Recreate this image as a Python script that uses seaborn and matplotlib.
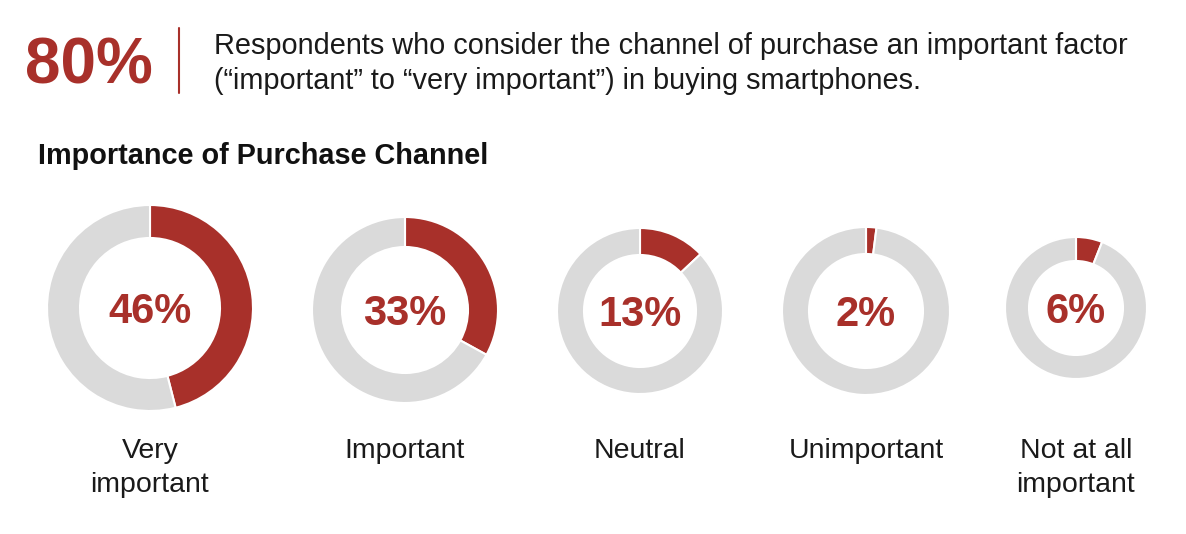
import matplotlib
matplotlib.use("Agg")
import matplotlib.pyplot as plt
import seaborn as sns

# ---- data ----
categories = ["Very\nimportant", "Important", "Neutral", "Unimportant", "Not at all\nimportant"]
shares = [46, 33, 13, 2, 6]
headline_value = "80%"
headline_text = ("Respondents who consider the channel of purchase an important factor\n"
                 "(\u201cimportant\u201d to \u201cvery important\u201d) in buying smartphones.")
chart_title = "Importance of Purchase Channel"

# ---- layout / style (pixel coordinates, y measured from top) ----
W, H = 1186, 534
centers_x = [150, 405, 640, 866, 1076]
centers_y = [308, 310, 311, 311, 308]
radii = [103, 93, 83, 84, 71]
ring_w = [33, 30, 27, 27, 24]
label_base = 458
label_step = 34
RED = "#A8302A"
GRAY = "#DADADA"
TEXT = "#1a1a1a"

sns.set_theme(style="white")
plt.rcParams["font.family"] = ["Liberation Sans", "DejaVu Sans"]

fig = plt.figure(figsize=(W / 100, H / 100), dpi=100)
ax = fig.add_axes([0, 0, 1, 1])

palette = sns.color_palette([RED, GRAY])

for i, (cat, val) in enumerate(zip(categories, shares)):
    cx, cy = centers_x[i], H - centers_y[i]
    ax.pie([val, 100 - val], colors=palette, startangle=90, counterclock=False,
           radius=radii[i], center=(cx, cy),
           wedgeprops=dict(width=ring_w[i], edgecolor="white", linewidth=1.5))
    ax.text(cx, cy - 15, f"{val}%", ha="center", va="baseline", fontsize=30,
            fontweight="bold", color=RED)
    for k, line in enumerate(cat.split("\n")):
        ax.text(cx, H - (label_base + k * label_step), line, ha="center",
                va="baseline", fontsize=20.5, color=TEXT)

# header
ax.text(25, H - 83, headline_value, ha="left", va="baseline", fontsize=46,
        fontweight="bold", color=RED)
ax.plot([179, 179], [H - 28, H - 93], color=RED, lw=1.5)
for k, line in enumerate(headline_text.split("\n")):
    ax.text(214, H - (54 + k * 35), line, ha="left", va="baseline",
            fontsize=20.8, color=TEXT)
ax.text(38, H - 164, chart_title, ha="left", va="baseline", fontsize=20.8,
        fontweight="bold", color="#111111")

ax.set_xlim(0, W)
ax.set_ylim(0, H)
ax.set_aspect("equal")
ax.axis("off")

fig.savefig("out.png", dpi=100, facecolor="white")
